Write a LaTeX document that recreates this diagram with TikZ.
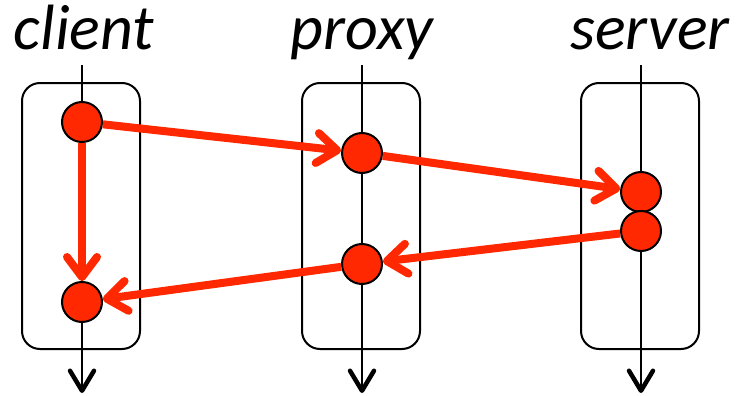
\documentclass[tikz,border=0pt]{standalone}
\usepackage{fontspec}
\setmainfont{Carlito}
\usetikzlibrary{arrows.meta}

\definecolor{msgred}{RGB}{255,40,0}

\tikzset{
  event/.style ={circle, draw=black, line width=2pt, fill=msgred, minimum size=40pt, inner sep=0pt},
  proc/.style  ={draw=black, line width=2pt, rounded corners=18pt, minimum width=118pt, minimum height=266pt},
  life/.style  ={line width=2pt, -{Straight Barb[length=20pt, width=24pt, line width=4.5pt, round]}},
  msg/.style   ={draw=msgred, line width=8pt, -{Straight Barb[length=20pt, width=30pt, round]}},
  lbl/.style   ={font=\fontsize{64}{66}\selectfont\itshape, anchor=base, inner sep=0pt},
}

\begin{document}
\begin{tikzpicture}[x=1pt, y=-1pt]
  \useasboundingbox (0,0) rectangle (736,396);
  \node[lbl] (cname) at (84, 50) {client};
  \node[lbl] (pname) at (362, 50) {proxy};
  \node[lbl] (sname) at (650, 50) {server};
  % process lifelines
  \coordinate (ctop) at (82, 65);   \coordinate (cend) at (82, 393);
  \coordinate (ptop) at (362, 65);  \coordinate (pend) at (362, 393);
  \coordinate (stop) at (641, 65);  \coordinate (send) at (641, 393);
  \draw[life] (ctop) -- (cend);
  \draw[life] (ptop) -- (pend);
  \draw[life] (stop) -- (send);
  \node[proc] (cbox) at (81, 216) {};
  \node[proc] (pbox) at (361, 216) {};
  \node[proc] (sbox) at (640, 216) {};
  % events
  \node[event] (c1) at (82, 122) {};
  \node[event] (c2) at (82, 302) {};
  \node[event] (p1) at (362, 153) {};
  \node[event] (p2) at (362, 264) {};
  \node[event] (s1) at (641, 192) {};
  \node[event] (s2) at (641, 231) {};
  % messages
  \draw[msg] (c1) -- (p1);
  \draw[msg] (p1) -- (s1);
  \draw[msg] (s2) -- (p2);
  \draw[msg] (p2) -- (c2);
  \draw[msg] (c1) -- (c2);
\end{tikzpicture}
\end{document}
